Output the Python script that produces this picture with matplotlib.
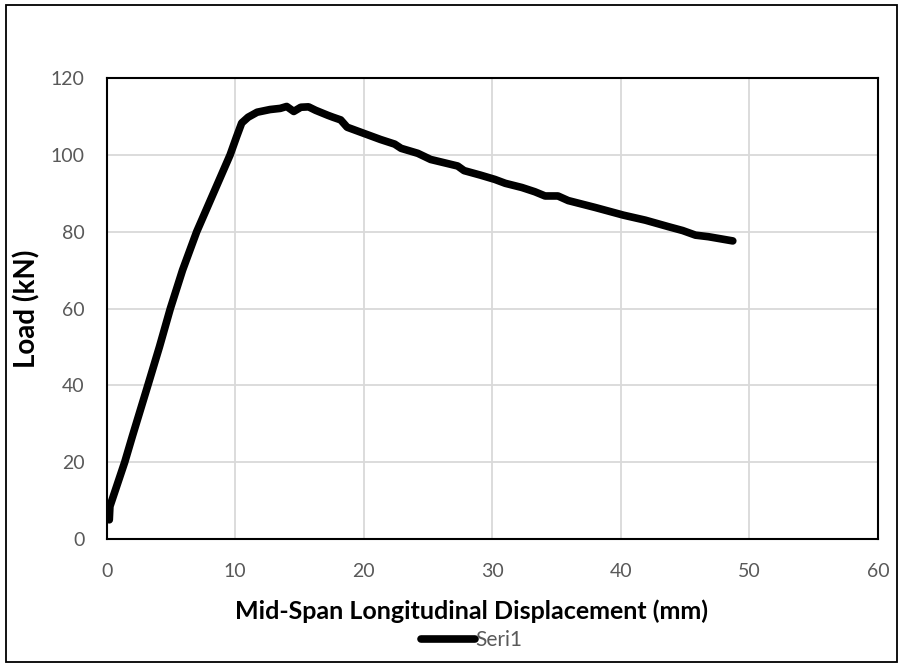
import matplotlib.pyplot as plt
from matplotlib.patches import Rectangle

# load-displacement curve
disp = [0.2, 0.25, 0.5, 1.0, 1.4, 2.0, 3.2, 4.1, 4.95, 5.9, 7.0, 8.3, 9.6, 10.1,
        10.5, 11.0, 11.7, 12.7, 13.5, 14.0, 14.55, 15.1, 15.7, 16.25, 17.2, 17.6,
        18.2, 18.7, 20.0, 21.3, 22.4, 22.9, 24.2, 25.2, 27.3, 27.8, 29.1, 30.2,
        31.0, 32.3, 33.3, 34.1, 35.1, 35.9, 38.0, 40.2, 41.9, 43.7, 44.8, 45.8,
        46.8, 48.7]
load = [5.0, 8.5, 11.0, 16.0, 20.0, 26.8, 40.0, 50.0, 60.0, 70.0, 80.0, 90.0,
        100.0, 104.7, 108.3, 109.8, 111.1, 111.8, 112.1, 112.6, 111.3, 112.4,
        112.5, 111.6, 110.3, 109.8, 109.1, 107.2, 105.6, 104.0, 102.8, 101.7,
        100.4, 98.8, 97.1, 95.9, 94.7, 93.6, 92.6, 91.5, 90.4, 89.3, 89.3, 88.1,
        86.3, 84.3, 83.0, 81.3, 80.3, 79.1, 78.7, 77.6]

xticks = [0, 10, 20, 30, 40, 50, 60]
yticks = [0, 20, 40, 60, 80, 100, 120]

plt.rcParams['font.family'] = ['Lato', 'DejaVu Sans']

fig = plt.figure(figsize=(8.99, 6.63), dpi=100)
ax = fig.add_axes([0.1187, 0.187, 0.858, 0.6953])

ax.plot(disp, load, color='black', lw=5.5, solid_capstyle='round',
        solid_joinstyle='round', label='Seri1')

ax.set_xlim(0, 60)
ax.set_ylim(0, 120)
ax.set_xticks(xticks)
ax.set_yticks(yticks)
ax.grid(True, color='#d9d9d9', lw=1.3)
ax.set_axisbelow(True)
ax.tick_params(length=0, labelsize=14, labelcolor='#595959')
ax.tick_params(axis='y', pad=16)
ax.tick_params(axis='x', pad=17)
for s in ax.spines.values():
    s.set_color('black')
    s.set_linewidth(1.5)

fig.text(0.5245, 0.0659, 'Mid-Span Longitudinal Displacement (mm)', fontsize=18,
         fontweight='bold', ha='center', va='baseline')
fig.text(0.030, 0.5347, 'Load (kN)', fontsize=20, fontweight='bold',
         rotation=90, ha='center', va='center')

leg = fig.legend(loc='center', bbox_to_anchor=(0.5245, 0.0347), frameon=False,
                 fontsize=15, handlelength=2.6, handletextpad=0.0)
for t in leg.get_texts():
    t.set_color('#595959')

fig.add_artist(Rectangle((6 / 899, 0.0015), 891 / 899, 1 - 5 / 663 - 0.0015,
                         transform=fig.transFigure, fill=False,
                         edgecolor='black', lw=1.3))

plt.savefig('out.png', dpi=100)
